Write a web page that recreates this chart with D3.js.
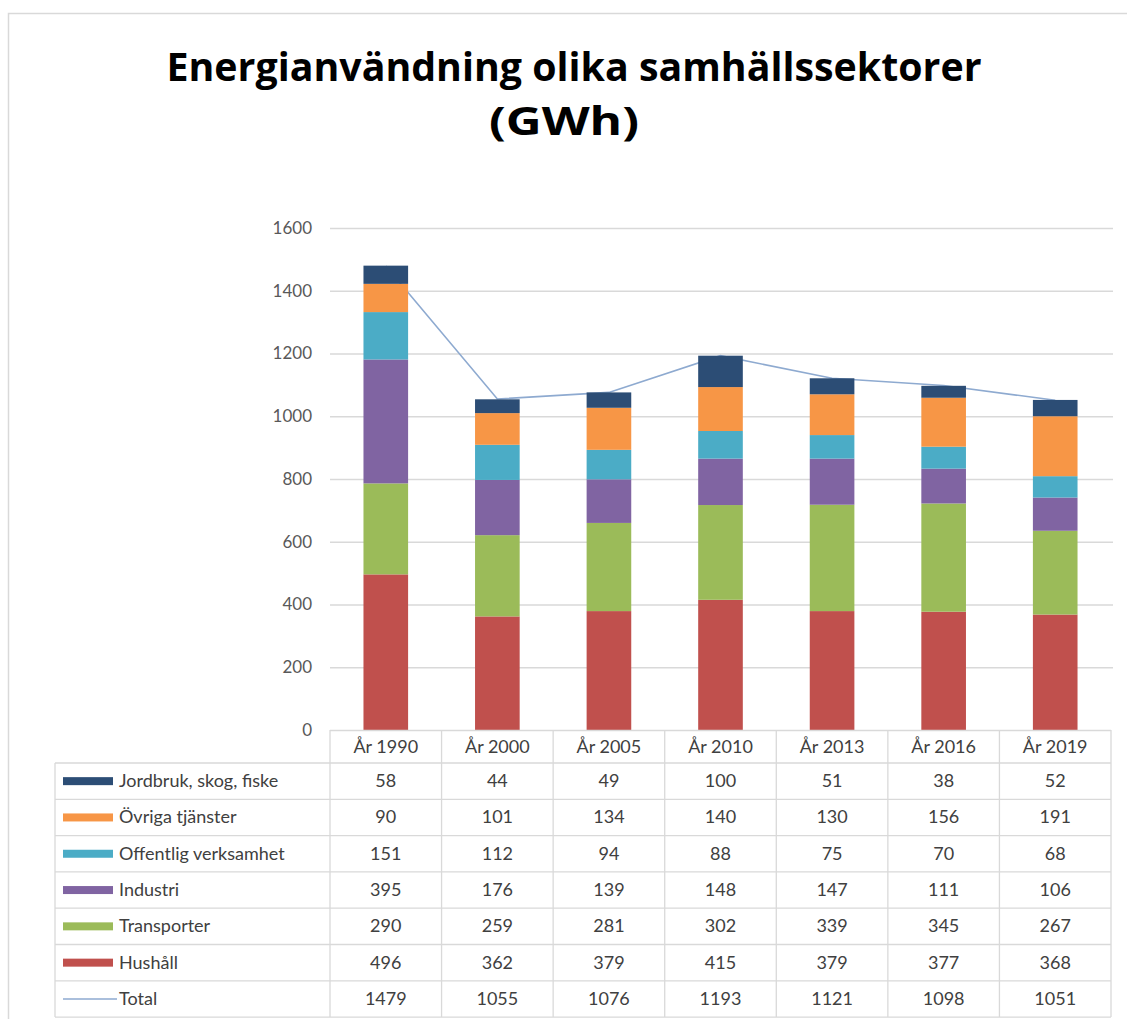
<!DOCTYPE html>
<html><head><meta charset="utf-8">
<script src="https://cdn.jsdelivr.net/npm/d3@7"></script>
<style>
body{margin:0;background:#fff;}
svg{display:block;font-family:Lato,"Open Sans",sans-serif;}
</style></head>
<body><svg id="c" width="1127" height="1019"></svg>
<script>
const years = ["År 1990","År 2000","År 2005","År 2010","År 2013","År 2016","År 2019"];
const seriesNames = ["Jordbruk, skog, fiske","Övriga tjänster","Offentlig verksamhet","Industri","Transporter","Hushåll"];
const jordbruk   = [58, 44, 49, 100, 51, 38, 52];
const ovriga     = [90, 101, 134, 140, 130, 156, 191];
const offentlig  = [151, 112, 94, 88, 75, 70, 68];
const industri   = [395, 176, 139, 148, 147, 111, 106];
const transporter= [290, 259, 281, 302, 339, 345, 267];
const hushall    = [496, 362, 379, 415, 379, 377, 368];
const total      = [1479, 1055, 1076, 1193, 1121, 1098, 1051];
const yTicks = [0,200,400,600,800,1000,1200,1400,1600];

const colors = {
  "Jordbruk, skog, fiske":"#2c4d75",
  "Övriga tjänster":"#f79646",
  "Offentlig verksamhet":"#4bacc6",
  "Industri":"#8064a2",
  "Transporter":"#9bbb59",
  "Hushåll":"#c0504d"
};
const lineColor = "#8eaad0";
const gridColor = "#d9d9d9";
const textColor = "#404040";

const valuesByName = {
  "Jordbruk, skog, fiske":jordbruk,
  "Övriga tjänster":ovriga,
  "Offentlig verksamhet":offentlig,
  "Industri":industri,
  "Transporter":transporter,
  "Hushåll":hushall
};
const rows = years.map((y,i)=>{
  const o={year:y};
  seriesNames.forEach(n=>o[n]=valuesByName[n][i]);
  return o;
});
const stackKeys = seriesNames.slice().reverse(); // bottom to top
const stacked = d3.stack().keys(stackKeys)(rows);

const svg = d3.select("#c");
svg.append("rect").attr("width",1127).attr("height",1019).attr("fill","#fff");
// outer chart border
svg.append("rect").attr("x",8.5).attr("y",13.5).attr("width",1200).attr("height",1100)
  .attr("fill","none").attr("stroke","#d9d9d9").attr("stroke-width",1.5);

// Title
svg.append("text").attr("x",574).attr("y",81).attr("text-anchor","middle")
  .attr("font-family","'Open Sans',sans-serif").attr("font-weight","bold").attr("font-size",39)
  .attr("fill","#000").attr("textLength",815).attr("lengthAdjust","spacingAndGlyphs")
  .text("Energianvändning olika samhällssektorer");
svg.append("text").attr("x",564).attr("y",135).attr("text-anchor","middle")
  .attr("font-family","'Open Sans',sans-serif").attr("font-weight","bold").attr("font-size",39)
  .attr("fill","#000").attr("textLength",150).attr("lengthAdjust","spacingAndGlyphs")
  .text("(GWh)");

const left = 330, right = 1111;
const x = d3.scaleBand().domain(years).range([left,right]).paddingInner(0.6).paddingOuter(0.3);
const y = d3.scaleLinear().domain([0,1600]).range([730,228]);

// gridlines
svg.append("g").selectAll("line").data(yTicks.filter(d=>d>0)).join("line")
  .attr("x1",left).attr("x2",right+2).attr("y1",d=>y(d)+0.5).attr("y2",d=>y(d)+0.5)
  .attr("stroke",gridColor).attr("stroke-width",1.3);

// y axis labels
const yAxis = d3.axisLeft(y).tickValues(yTicks).tickSize(0).tickPadding(0).tickFormat(d3.format("d"));
const ga = svg.append("g").attr("transform",`translate(312,0)`).call(yAxis);
ga.select(".domain").remove();
ga.selectAll("text").attr("font-size",17).attr("fill","#595959").attr("font-family","Lato,sans-serif");

// total line (behind bars)
const line = d3.line().x((d,i)=>x(years[i])+x.bandwidth()/2).y(d=>y(d));
svg.append("path").datum(total).attr("d",line).attr("fill","none")
  .attr("stroke",lineColor).attr("stroke-width",1.6);

// bars
svg.append("g").selectAll("g").data(stacked).join("g")
  .attr("fill",d=>colors[d.key])
  .selectAll("rect").data(d=>d).join("rect")
  .attr("x",d=>x(d.data.year)).attr("width",x.bandwidth())
  .attr("y",d=>y(d[1])).attr("height",d=>y(d[0])-y(d[1]));

// data table
const step = x.step();
const colEdges = years.map((yr,i)=>left + i*step).concat([right]);
const headerTop = 730, headerBottom = 763, rowH = 36.3;
const tableRows = seriesNames.concat(["Total"]);
const tableVals = seriesNames.map(n=>valuesByName[n]).concat([total]);
const tableLeft = 55;
const tableBottom = headerBottom + rowH*tableRows.length;
const tg = svg.append("g");
tg.append("line").attr("x1",left).attr("x2",right).attr("y1",headerTop+0.5).attr("y2",headerTop+0.5)
  .attr("stroke",gridColor).attr("stroke-width",1.3);
d3.range(tableRows.length+1).forEach(i=>{
  const yy = headerBottom + i*rowH;
  tg.append("line").attr("x1",tableLeft).attr("x2",right).attr("y1",yy).attr("y2",yy)
    .attr("stroke",gridColor).attr("stroke-width",1.3);
});
colEdges.forEach(xx=>{
  tg.append("line").attr("x1",xx).attr("x2",xx).attr("y1",headerTop).attr("y2",tableBottom)
    .attr("stroke",gridColor).attr("stroke-width",1.3);
});
tg.append("line").attr("x1",tableLeft).attr("x2",tableLeft).attr("y1",headerBottom).attr("y2",tableBottom)
  .attr("stroke",gridColor).attr("stroke-width",1.3);
tg.selectAll("text.h").data(years).join("text").attr("class","h")
  .attr("x",d=>x(d)+x.bandwidth()/2).attr("y",753).attr("text-anchor","middle")
  .attr("font-size",18).attr("fill",textColor).text(d=>d);
tableRows.forEach((name,r)=>{
  const cy = headerBottom + r*rowH + rowH/2;
  if(name==="Total"){
    tg.append("line").attr("x1",63).attr("x2",117).attr("y1",cy).attr("y2",cy)
      .attr("stroke",lineColor).attr("stroke-width",1.6);
  } else {
    tg.append("rect").attr("x",63).attr("y",cy-4).attr("width",50).attr("height",8).attr("fill",colors[name]);
  }
  tg.append("text").attr("x",119).attr("y",cy+6).attr("font-size",18).attr("fill",textColor).text(name);
  tableVals[r].forEach((v,i)=>{
    tg.append("text").attr("x",x(years[i])+x.bandwidth()/2).attr("y",cy+6).attr("text-anchor","middle")
      .attr("font-size",18).attr("fill",textColor).text(v);
  });
});
</script></body></html>
